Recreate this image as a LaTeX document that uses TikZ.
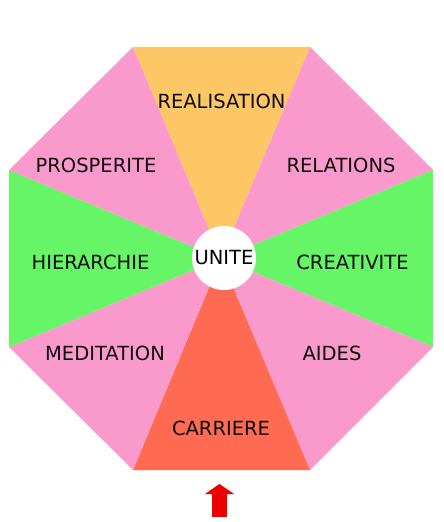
\documentclass[tikz,border=0pt]{standalone}
\usepackage{fontspec}
\setmainfont{DejaVu Sans}
\definecolor{cpink}{HTML}{FA9ACC}
\definecolor{corange}{HTML}{FDC765}
\definecolor{cgreen}{HTML}{66F566}
\definecolor{cred}{HTML}{FF6A52}
\definecolor{carrow}{HTML}{EE0000}
\begin{document}
\begin{tikzpicture}[x=1pt,y=-1pt,
  lbl/.style={font=\fontsize{19.5}{21}\selectfont, text=black!95, inner sep=0pt},
  sector/.style={draw=none}]
\useasboundingbox (0,0) rectangle (444,522);
\fill[white] (0,0) rectangle (444,522);
\coordinate (O) at (221,258.5);
\coordinate (v1) at (133,47);
\coordinate (v2) at (310,47);
\coordinate (v3) at (433,170);
\coordinate (v4) at (433,347);
\coordinate (v5) at (310,470);
\coordinate (v6) at (133,470);
\coordinate (v7) at (9,347);
\coordinate (v8) at (9,170);
\fill[corange] (O) -- (v1) -- (v2) -- cycle;
\fill[cpink] (O) -- (v2) -- (v3) -- cycle;
\fill[cgreen] (O) -- (v3) -- (v4) -- cycle;
\fill[cpink] (O) -- (v4) -- (v5) -- cycle;
\fill[cred] (O) -- (v5) -- (v6) -- cycle;
\fill[cpink] (O) -- (v6) -- (v7) -- cycle;
\fill[cgreen] (O) -- (v7) -- (v8) -- cycle;
\fill[cpink] (O) -- (v8) -- (v1) -- cycle;
\node[lbl] (real) at (221.5,101) {REALISATION};
\node[lbl] (pros) at (96,165) {PROSPERITE};
\node[lbl] (rela) at (341,165) {RELATIONS};
\node[lbl] (hier) at (90.5,262) {HIERARCHIE};
\node[lbl] (crea) at (352.5,262) {CREATIVITE};
\node[lbl] (medi) at (105,353) {MEDITATION};
\node[lbl] (aide) at (332,353) {AIDES};
\node[lbl] (carr) at (221,428) {CARRIERE};
\node[circle, fill=white, minimum size=64pt, inner sep=0pt, font=\fontsize{19.5}{21}\selectfont] (unit) at (224,258) {UNITE};
\fill[carrow] (212,517) -- (212,494) -- (205,494) -- (219.5,484) -- (234,494) -- (227,494) -- (227,517) -- cycle;
\end{tikzpicture}
\end{document}
